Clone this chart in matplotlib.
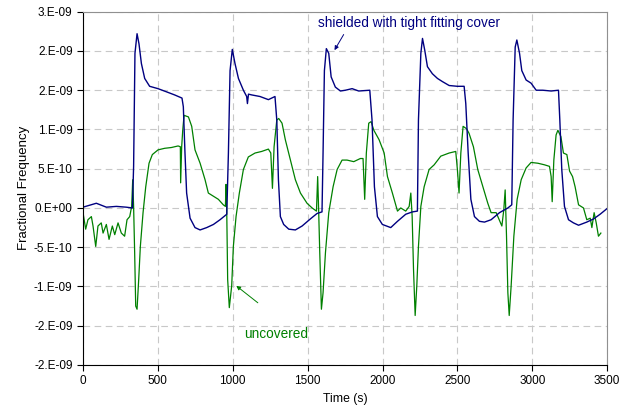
import matplotlib
matplotlib.use("Agg")
from matplotlib import pyplot as plt
import numpy as np

# values in units of 1e-9
shielded_t = [0, 89, 156, 223, 289, 330, 338, 347, 361, 374, 390, 412, 445, 501, 557, 612, 661,
              670, 681, 692, 715, 748, 782, 826, 871, 915, 960, 971, 982, 997, 1015, 1038, 1071,
              1093, 1098, 1105, 1127, 1182, 1238, 1282, 1294, 1305, 1318, 1340, 1374, 1418, 1463,
              1518, 1563, 1596, 1603, 1612, 1625, 1641, 1657, 1685, 1719, 1752, 1797, 1841, 1915,
              1930, 1946, 1966, 1999, 2055, 2100, 2155, 2200, 2233, 2240, 2256, 2267, 2282, 2300,
              2333, 2367, 2400, 2445, 2500, 2545, 2556, 2572, 2590, 2614, 2647, 2681, 2725, 2781,
              2837, 2863, 2872, 2886, 2897, 2915, 2930, 2959, 2992, 3026, 3070, 3126, 3175, 3184,
              3197, 3215, 3242, 3275, 3309, 3364, 3409, 3453, 3498]
shielded_v = [0.01, 0.06, 0.01, 0.02, 0.01, 0.00, 0.53, 1.97, 2.22, 2.09, 1.84, 1.65, 1.55, 1.52,
              1.48, 1.44, 1.40, 1.29, 0.70, 0.19, -0.13, -0.25, -0.28, -0.25, -0.21, -0.15, -0.08,
              0.70, 1.75, 2.02, 1.84, 1.65, 1.50, 1.42, 1.33, 1.45, 1.44, 1.42, 1.38, 1.42, 1.12,
              0.36, -0.11, -0.21, -0.27, -0.28, -0.23, -0.14, -0.07, -0.05, 0.70, 1.75, 2.03, 1.97,
              1.67, 1.54, 1.49, 1.50, 1.52, 1.49, 1.50, 1.12, 0.27, -0.11, -0.21, -0.25, -0.17,
              -0.08, -0.05, -0.04, 1.12, 1.97, 2.16, 2.01, 1.80, 1.71, 1.65, 1.61, 1.56, 1.55, 1.55,
              1.33, 0.70, 0.11, -0.11, -0.17, -0.18, -0.15, -0.06, 0.00, 0.04, 1.12, 2.05, 2.14,
              1.97, 1.75, 1.63, 1.59, 1.50, 1.50, 1.49, 1.50, 1.12, 0.49, 0.02, -0.15, -0.19,
              -0.22, -0.18, -0.14, -0.08, -0.01]

uncovered_t = [0, 18, 33, 56, 67, 85, 100, 122, 134, 156, 174, 196, 212, 234, 256, 278, 294, 312,
               325, 332, 338, 345, 352, 361, 372, 383, 401, 419, 441, 463, 501, 545, 590, 635, 650,
               652, 659, 666, 675, 704, 726, 748, 782, 815, 837, 871, 904, 937, 951, 955, 960, 966,
               977, 993, 1004, 1022, 1044, 1071, 1104, 1149, 1193, 1238, 1254, 1265, 1276, 1294,
               1307, 1329, 1351, 1385, 1418, 1452, 1496, 1530, 1559, 1567, 1574, 1581, 1592, 1603,
               1619, 1641, 1670, 1697, 1730, 1763, 1808, 1852, 1870, 1881, 1892, 1908, 1924, 1942,
               1977, 2011, 2033, 2066, 2100, 2122, 2155, 2178, 2189, 2198, 2207, 2218, 2229, 2240,
               2256, 2278, 2311, 2345, 2389, 2445, 2489, 2500, 2511, 2523, 2538, 2561, 2578, 2607,
               2636, 2670, 2703, 2725, 2759, 2797, 2810, 2819, 2828, 2837, 2846, 2859, 2877, 2899,
               2926, 2959, 2992, 3037, 3081, 3115, 3126, 3133, 3144, 3159, 3171, 3191, 3208, 3231,
               3249, 3269, 3286, 3309, 3342, 3364, 3387, 3398, 3413, 3427, 3442, 3458]
uncovered_v = [-0.06, -0.27, -0.15, -0.11, -0.23, -0.49, -0.23, -0.19, -0.32, -0.21, -0.40, -0.23,
               -0.34, -0.19, -0.32, -0.36, -0.15, -0.11, 0.02, 0.36, 0.02, -0.57, -1.25, -1.29,
               -0.91, -0.49, -0.06, 0.27, 0.57, 0.68, 0.74, 0.76, 0.77, 0.79, 0.78, 0.32, 0.78,
               0.99, 1.18, 1.16, 1.04, 0.74, 0.57, 0.36, 0.19, 0.15, 0.11, 0.04, 0.02, 0.30, -0.06,
               -0.91, -1.27, -0.99, -0.49, -0.11, 0.19, 0.49, 0.65, 0.70, 0.72, 0.75, 0.70, 0.25,
               0.78, 1.12, 1.14, 1.08, 0.87, 0.61, 0.36, 0.19, 0.06, 0.00, -0.04, 0.40, -0.06,
               -0.57, -1.29, -1.08, -0.57, -0.06, 0.27, 0.49, 0.61, 0.61, 0.59, 0.63, 0.63, 0.11,
               0.70, 1.08, 1.10, 0.99, 0.87, 0.70, 0.40, 0.19, -0.04, 0.00, -0.04, 0.02, 0.19,
               -0.11, -0.78, -1.37, -0.99, -0.49, 0.02, 0.27, 0.49, 0.55, 0.66, 0.70, 0.72, 0.49,
               0.19, 0.70, 1.04, 1.01, 0.95, 0.78, 0.49, 0.27, 0.06, -0.06, -0.06, -0.23, -0.02,
               0.23, -0.36, -1.08, -1.37, -0.99, -0.36, 0.11, 0.36, 0.51, 0.58, 0.57, 0.55, 0.53,
               0.40, 0.08, 0.61, 0.93, 0.99, 0.91, 0.70, 0.68, 0.47, 0.40, 0.27, 0.04, 0.00, -0.15,
               -0.13, -0.25, -0.06, -0.19, -0.36, -0.32]

x_ticks = [0, 500, 1000, 1500, 2000, 2500, 3000, 3500]
y_ticks = [-2.0, -1.5, -1.0, -0.5, 0.0, 0.5, 1.0, 1.5, 2.0, 2.5]
y_labels = ["-2.E-09", "-2.E-09", "-1.E-09", "-5.E-10", "0.E+00",
            "5.E-10", "1.E-09", "2.E-09", "2.E-09", "3.E-09"]

plt.rcParams["font.family"] = ["Liberation Sans", "DejaVu Sans"]

fig = plt.figure(figsize=(6.24, 4.19), dpi=100)
ax = fig.add_axes([0.133, 0.129, 0.840, 0.843])

blue = "#000080"
green = "#008000"

ax.plot(uncovered_t, uncovered_v, color=green, lw=0.9)
ax.plot(shielded_t, shielded_v, color=blue, lw=1.0)

ax.set_xlim(0, 3500)
ax.set_ylim(-2.0, 2.5)
ax.set_xticks(x_ticks)
ax.set_yticks(y_ticks)
ax.set_yticklabels(y_labels)
ax.tick_params(labelsize=8.5, direction="out", length=4, width=0.8, colors="black")
ax.grid(True, color="#c8c8c8", linestyle=(0, (6, 4)), lw=0.8)
ax.set_axisbelow(True)

for s in ["top", "right"]:
    ax.spines[s].set_color("#909090")
for s in ["left", "bottom"]:
    ax.spines[s].set_color("black")

ax.set_xlabel("Time (s)", fontsize=8.8, labelpad=4)
ax.set_ylabel("Fractional Frequency", fontsize=9.5, labelpad=3)

ax.annotate("", xy=(1670, 1.98), xytext=(1750, 2.24),
            arrowprops=dict(arrowstyle="-|>", color=blue, lw=0.7, mutation_scale=6))
ax.text(1570, 2.36, "shielded with tight fitting cover", color=blue, fontsize=9.8,
        va="center", ha="left")

ax.annotate("", xy=(1009, -0.97), xytext=(1182, -1.23),
            arrowprops=dict(arrowstyle="-|>", color=green, lw=0.7, mutation_scale=6))
ax.text(1289, -1.60, "uncovered", color=green, fontsize=9.8, va="center", ha="center")

fig.savefig("out.png", dpi=100)
